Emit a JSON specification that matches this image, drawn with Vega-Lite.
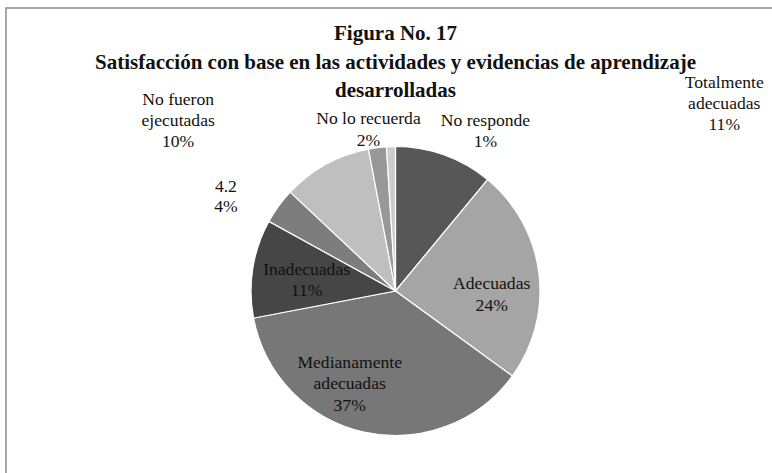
{
  "$schema": "https://vega.github.io/schema/vega-lite/v6.json",
  "width": 779,
  "height": 566,
  "autosize": {"type": "none"},
  "padding": {"left": 6, "top": 8, "right": 0, "bottom": 0},
  "background": "white",
  "view": {"stroke": "#8c8c8c", "strokeWidth": 1.5, "fill": "white"},
  "title": {
    "text": ["Figura No. 17", "Satisfacción con base en las actividades y evidencias de aprendizaje", "desarrolladas"],
    "font": "Liberation Serif",
    "fontSize": 21,
    "fontWeight": "bold",
    "color": "#111111",
    "lineHeight": 28.5,
    "anchor": "middle",
    "frame": "group",
    "orient": "top",
    "offset": -93
  },
  "data": {
    "values": [
      {"orden": 1, "categoria": "Totalmente adecuadas", "porcentaje": 11, "etiqueta": "Totalmente\nadecuadas\n11%"},
      {"orden": 2, "categoria": "Adecuadas", "porcentaje": 24, "etiqueta": "Adecuadas\n24%"},
      {"orden": 3, "categoria": "Medianamente adecuadas", "porcentaje": 37, "etiqueta": "Medianamente\nadecuadas\n37%"},
      {"orden": 4, "categoria": "Inadecuadas", "porcentaje": 11, "etiqueta": "Inadecuadas\n11%"},
      {"orden": 5, "categoria": "4.2", "porcentaje": 4, "etiqueta": "4.2\n4%"},
      {"orden": 6, "categoria": "No fueron ejecutadas", "porcentaje": 10, "etiqueta": "No fueron\nejecutadas\n10%"},
      {"orden": 7, "categoria": "No lo recuerda", "porcentaje": 2, "etiqueta": "No lo recuerda\n2%"},
      {"orden": 8, "categoria": "No responde", "porcentaje": 1, "etiqueta": "No responde\n1%"}
    ]
  },
  "encoding": {
    "theta": {"field": "porcentaje", "type": "quantitative", "stack": true},
    "order": {"field": "orden", "type": "quantitative"}
  },
  "layer": [
    {
      "mark": {"type": "arc", "outerRadius": 144.5, "stroke": "white", "strokeWidth": 1.2},
      "encoding": {
        "color": {
          "field": "categoria",
          "type": "nominal",
          "legend": null,
          "scale": {
            "domain": ["Totalmente adecuadas", "Adecuadas", "Medianamente adecuadas", "Inadecuadas", "4.2", "No fueron ejecutadas", "No lo recuerda", "No responde"],
            "range": ["#575757", "#a5a5a5", "#777777", "#464646", "#7d7d7d", "#bfbfbf", "#989898", "#cdcdcd"]
          }
        }
      }
    },
    {
      "mark": {"type": "text", "radius": 100, "dx": -3, "dy": 6, "font": "Liberation Serif", "fontSize": 17.6, "lineBreak": "\n", "lineHeight": 21.5, "color": "#111111", "align": "center", "baseline": "middle"},
      "encoding": {"text": {"condition": {"test": "datum.categoria === 'Adecuadas'", "field": "etiqueta"}, "value": ""}}
    },
    {
      "mark": {"type": "text", "radius": 100, "dx": -24, "dy": -26, "font": "Liberation Serif", "fontSize": 17.6, "lineBreak": "\n", "lineHeight": 21.5, "color": "#111111", "align": "center", "baseline": "middle"},
      "encoding": {"text": {"condition": {"test": "datum.categoria === 'Medianamente adecuadas'", "field": "etiqueta"}, "value": ""}}
    },
    {
      "mark": {"type": "text", "radius": 90, "dy": -7, "font": "Liberation Serif", "fontSize": 17.6, "lineBreak": "\n", "lineHeight": 21.5, "color": "#111111", "align": "center", "baseline": "middle"},
      "encoding": {"text": {"condition": {"test": "datum.categoria === 'Inadecuadas'", "field": "etiqueta"}, "value": ""}}
    },
    {
      "mark": {"type": "text", "radius": 200, "dx": 261, "dy": -20, "font": "Liberation Serif", "fontSize": 17.6, "lineBreak": "\n", "lineHeight": 21, "color": "#111111", "align": "center", "baseline": "middle"},
      "encoding": {"text": {"condition": {"test": "datum.categoria === 'Totalmente adecuadas'", "field": "etiqueta"}, "value": ""}}
    },
    {
      "mark": {"type": "text", "radius": 160, "dx": 95, "dy": -10, "font": "Liberation Serif", "fontSize": 17.6, "lineBreak": "\n", "lineHeight": 21, "color": "#111111", "align": "center", "baseline": "middle"},
      "encoding": {"text": {"condition": {"test": "datum.categoria === 'No responde'", "field": "etiqueta"}, "value": ""}}
    },
    {
      "mark": {"type": "text", "radius": 160, "dx": -7, "dy": -13, "font": "Liberation Serif", "fontSize": 17.6, "lineBreak": "\n", "lineHeight": 21.5, "color": "#111111", "align": "center", "baseline": "middle"},
      "encoding": {"text": {"condition": {"test": "datum.categoria === 'No lo recuerda'", "field": "etiqueta"}, "value": ""}}
    },
    {
      "mark": {"type": "text", "radius": 200, "dx": -121, "dy": -16, "font": "Liberation Serif", "fontSize": 17.6, "lineBreak": "\n", "lineHeight": 21, "color": "#111111", "align": "center", "baseline": "middle"},
      "encoding": {"text": {"condition": {"test": "datum.categoria === 'No fueron ejecutadas'", "field": "etiqueta"}, "value": ""}}
    },
    {
      "mark": {"type": "text", "radius": 180, "dx": -24, "dy": 2, "font": "Liberation Serif", "fontSize": 17.6, "lineBreak": "\n", "lineHeight": 20, "color": "#111111", "align": "center", "baseline": "middle"},
      "encoding": {"text": {"condition": {"test": "datum.categoria === '4.2'", "field": "etiqueta"}, "value": ""}}
    }
  ]
}
